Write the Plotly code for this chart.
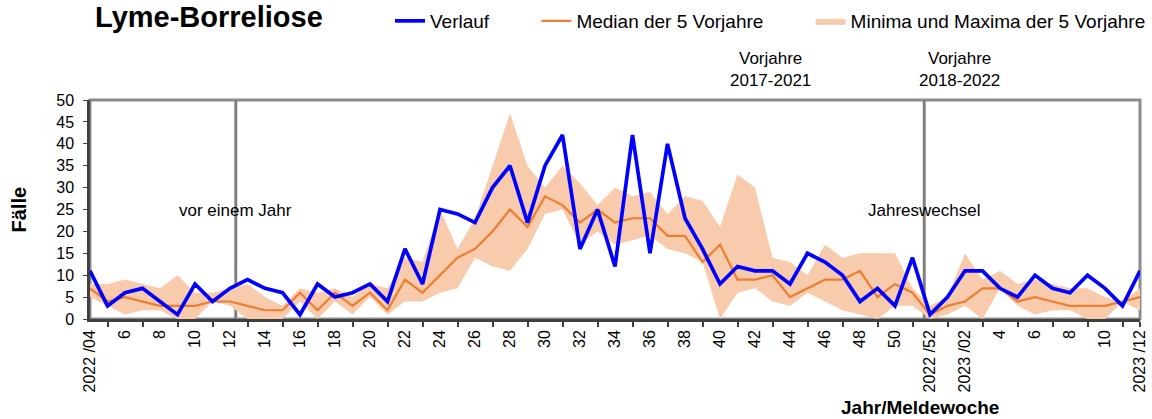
import plotly.graph_objects as go

# ---- data -------------------------------------------------------------
weeks = [f"2022/{w:02d}" for w in range(4, 53)] + [f"2023/{w:02d}" for w in range(1, 13)]

verlauf = [11, 3, 6, 7, 4, 1, 8, 4, 7, 9,
           7, 6, 1, 8, 5, 6, 8, 4, 16, 8,
           25, 24, 22, 30, 35, 22, 35, 42, 16, 25,
           12, 42, 15, 40, 23, 16, 8, 12, 11, 11,
           8, 15, 13, 10, 4, 7, 3, 14, 1,
           5, 11, 11, 7, 5, 10, 7, 6, 10, 7, 3, 11]

median = [7, 4, 5, 4, 3, 3, 3, 4, 4, 3,
          2, 2, 6, 2, 6, 3, 6, 2, 9, 6,
          10, 14, 16, 20, 25, 21, 28, 26, 22, 25,
          22, 23, 23, 19, 19, 13, 17, 9, 9, 10,
          5, 7, 9, 9, 11, 5, 8, 6, 1,
          3, 4, 7, 7, 4, 5, 4, 3, 3, 3, 4, 5]

maxima = [8, 8, 9, 8, 7, 10, 6, 6, 7, 8,
          5, 3, 7, 6, 7, 5, 8, 7, 14, 13,
          25, 16, 23, 35, 47, 35, 30, 35, 31, 26,
          30, 28, 29, 24, 28, 27, 21, 33, 30, 14,
          13, 10, 17, 14, 15, 15, 15, 7, 3,
          5, 15, 9, 11, 8, 9, 8, 7, 7, 5, 4, 7]

minima = [5, 3, 1, 2, 2, 0, 0, 4, 3, 0,
          0, 0, 4, 0, 4, 1, 5, 1, 4, 4,
          6, 7, 14, 12, 11, 16, 24, 25, 17, 20,
          17, 18, 19, 16, 15, 13, 0, 6, 7, 4,
          3, 6, 4, 2, 1, 0, 3, 3, 0,
          1, 3, 0, 7, 3, 1, 2, 2, 0, 0, 4, 2]

tick_labels = ["2022 /04", "6", "8", "10", "12", "14", "16", "18", "20", "22",
               "24", "26", "28", "30", "32", "34", "36", "38", "40", "42",
               "44", "46", "48", "50", "2022 /52", "2023 /02", "4", "6", "8",
               "10", "2023 /12"]

# reference lines (x in week-index units)
line_vor_einem_jahr = 8.33
line_jahreswechsel = 47.67

# ---- figure -----------------------------------------------------------
x = list(range(len(weeks)))
tickvals = x[::2]
FONT = "Liberation Sans, Arial, sans-serif"
PAD = "\u00a0" * 8

fig = go.Figure()
fig.add_trace(go.Scatter(x=x, y=minima, mode="lines", line=dict(width=0, color="#F8CBAD"),
                         showlegend=False, hoverinfo="skip"))
fig.add_trace(go.Scatter(x=x, y=maxima, mode="lines", line=dict(width=0, color="#F8CBAD"),
                         fill="tonexty", fillcolor="#F8CBAD",
                         name="Minima und Maxima der 5 Vorjahre", legendrank=3))
fig.add_trace(go.Scatter(x=x, y=median, mode="lines", line=dict(width=2.2, color="#ED7D31"),
                         name="Median der 5 Vorjahre" + PAD, legendrank=2))
fig.add_trace(go.Scatter(x=x, y=verlauf, mode="lines", line=dict(width=3.7, color="#0000FF"),
                         name="Verlauf" + PAD, legendrank=1))

# frame (top/right gray)
fig.add_shape(type="rect", xref="paper", yref="paper", x0=0, x1=1, y0=0, y1=1,
              line=dict(color="#8C8C8C", width=3), layer="below")
for xv in (line_vor_einem_jahr, line_jahreswechsel):
    fig.add_shape(type="line", xref="x", yref="paper", x0=xv, x1=xv, y0=0, y1=1,
                  line=dict(color="#808080", width=3), layer="below")

ann_font = dict(family=FONT, size=17, color="#000000")
common = dict(showarrow=False, xanchor="center", yanchor="middle")
fig.add_annotation(x=line_vor_einem_jahr, y=24.7, xref="x", yref="y", text="vor einem Jahr",
                   font=ann_font, **common)
fig.add_annotation(x=line_jahreswechsel, y=24.7, xref="x", yref="y", text="Jahreswechsel",
                   font=ann_font, **common)
fig.add_annotation(x=38.9, y=1 + (100 - 70) / 219, xref="x", yref="paper",
                   text="Vorjahre<br>2017-2021", font=ann_font, **common)
fig.add_annotation(x=49.7, y=1 + (100 - 70) / 219, xref="x", yref="paper",
                   text="Vorjahre<br>2018-2022", font=ann_font, **common)
fig.add_annotation(x=(18 - 90) / 1050, y=0.5, xref="paper", yref="paper", text="<b>Fälle</b>",
                   textangle=-90, font=dict(family=FONT, size=20, color="#000"), **common)
fig.add_annotation(x=(920 - 90) / 1050, y=(319 - 407) / 219, xref="paper", yref="paper",
                   text="<b>Jahr/Meldewoche</b>",
                   font=dict(family=FONT, size=19, color="#000"), **common)

fig.update_layout(
    width=1152, height=419,
    margin=dict(l=90, r=12, t=100, b=100, autoexpand=False),
    paper_bgcolor="white", plot_bgcolor="white",
    font=dict(family=FONT, size=16, color="#000"),
    title=dict(text="<b>Lyme-Borreliose</b>", x=95 / 1152, xanchor="left",
               y=1 - 17 / 419, yanchor="middle",
               font=dict(family=FONT, size=29, color="#000")),
    legend=dict(orientation="h", traceorder="normal", x=(390 - 90) / 1050, xanchor="left",
                y=1 + (100 - 21) / 219, yanchor="middle",
                font=dict(family=FONT, size=19, color="#000"),
                bgcolor="rgba(0,0,0,0)"),
    showlegend=True,
)
fig.update_xaxes(range=[0, 60], tickvals=tickvals, ticktext=tick_labels, tickangle=-90,
                 ticks="outside", ticklen=2, tickcolor="rgba(0,0,0,0)",
                 minor=dict(tickvals=x[1::2] + [60], ticks="outside", ticklen=5,
                            tickcolor="#404040", tickwidth=1.5),
                 showline=True, linecolor="#404040", linewidth=2.5, showgrid=False,
                 zeroline=False, automargin=False,
                 tickfont=dict(family=FONT, size=16, color="#000"))
fig.update_yaxes(range=[0, 50], dtick=5, ticks="outside", ticklen=4, tickcolor="#404040",
                 ticklabelstandoff=6,
                 showline=True, linecolor="#404040", linewidth=2.5, showgrid=False,
                 zeroline=False, automargin=False,
                 tickfont=dict(family=FONT, size=16, color="#000"))

fig.write_html("out.html", config={"displayModeBar": False},
               post_script="document.body.style.margin='0';")
